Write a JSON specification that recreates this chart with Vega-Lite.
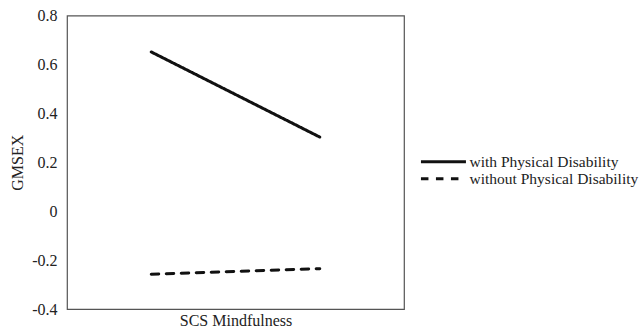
{
  "$schema": "https://vega.github.io/schema/vega-lite/v6.json",
  "autosize": "none",
  "width": 337,
  "height": 293.5,
  "padding": {"left": 67, "top": 15.5, "right": 237, "bottom": 23},
  "background": "white",
  "config": {
    "font": "Liberation Serif",
    "view": {"stroke": "#555", "strokeWidth": 1.2},
    "axis": {"labelFont": "Liberation Serif", "titleFont": "Liberation Serif", "labelColor": "#222", "titleColor": "#222", "titleFontWeight": "normal", "grid": false, "ticks": false, "domain": false},
    "legend": {"labelFont": "Liberation Serif", "labelColor": "#222"}
  },
  "data": {
    "values": [
      {"x": 1, "group": "with Physical Disability", "value": 0.651},
      {"x": 3, "group": "with Physical Disability", "value": 0.303},
      {"x": 1, "group": "without Physical Disability", "value": -0.258},
      {"x": 3, "group": "without Physical Disability", "value": -0.235}
    ]
  },
  "mark": {"type": "line", "strokeWidth": 3, "color": "#111", "strokeCap": "round"},
  "encoding": {
    "x": {
      "field": "x", "type": "quantitative",
      "scale": {"domain": [0, 4], "nice": false, "zero": false},
      "axis": {"labels": false, "title": "SCS Mindfulness", "titleFontSize": 16, "titlePadding": 3}
    },
    "y": {
      "field": "value", "type": "quantitative",
      "scale": {"domain": [-0.4, 0.8], "nice": false},
      "axis": {"values": [-0.4, -0.2, 0, 0.2, 0.4, 0.6, 0.8], "labelExpr": "datum.value == 0 ? '0' : (datum.value < 0 ? '-' + format(-datum.value, '.1f') : format(datum.value, '.1f'))", "labelFontSize": 16, "labelPadding": 10, "title": "GMSEX", "titleFontSize": 16, "titlePadding": 6}
    },
    "strokeDash": {
      "field": "group", "type": "nominal",
      "scale": {"domain": ["with Physical Disability", "without Physical Disability"], "range": [[1, 0], [7.5, 7.5]]},
      "legend": {
        "title": null, "orient": "none", "legendX": 387, "legendY": 138.5,
        "symbolType": "M-6.8,0H0.7", "symbolSize": 144, "symbolStrokeWidth": 3, "symbolStrokeColor": "#111",
        "labelFontSize": 15.5, "labelOffset": 0, "labelLimit": 400, "rowPadding": 0, "padding": 0,
        "encode": {"labels": {"update": {"lineHeight": {"value": 12}}}}
      }
    }
  }
}
